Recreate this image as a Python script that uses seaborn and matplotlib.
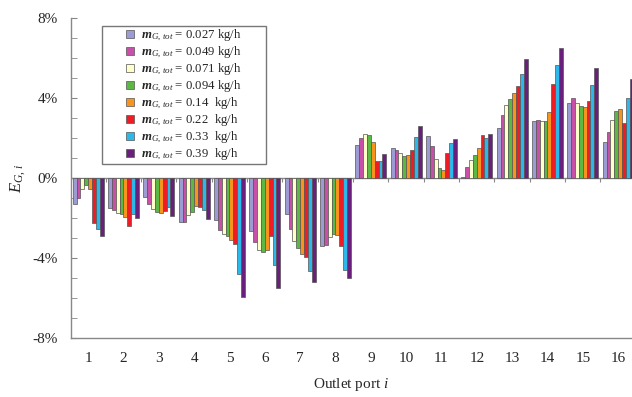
import numpy as np
import pandas as pd
import matplotlib
matplotlib.use('Agg')
import matplotlib.pyplot as plt
from matplotlib.patches import Patch, Rectangle
from matplotlib.ticker import MultipleLocator, FuncFormatter
import seaborn as sns

ports = list(range(1, 16 + 1))
flows = ['0.027', '0.049', '0.071', '0.094', '0.14 ', '0.22 ', '0.33 ', '0.39 ']
colors = ['#9c9cd2', '#c850a8', '#ffffcc', '#5cb845', '#f7941d', '#ee1c24', '#2cb8e8', '#6a1f7c']

# E_G,i in percent, one list per flow rate (ports 1..16)
e_027 = [-1.3, -1.5, -0.95, -2.2, -2.1, -2.65, -1.8, -3.4, 1.65, 1.5, 2.1, 0.05, 2.5, 2.85, 3.75, 1.8]
e_049 = [-1.0, -1.6, -1.3, -2.2, -2.6, -3.2, -2.55, -3.35, 2.0, 1.4, 1.6, 0.55, 3.15, 2.9, 4.0, 2.3]
e_071 = [-0.57, -1.75, -1.55, -1.85, -2.8, -3.6, -3.15, -2.95, 2.2, 1.25, 0.95, 0.9, 3.65, 2.85, 3.75, 2.9]
e_094 = [-0.33, -1.8, -1.7, -1.7, -2.9, -3.7, -3.5, -2.8, 2.15, 1.1, 0.5, 1.15, 3.95, 2.85, 3.6, 3.35]
e_14 = [-0.57, -1.95, -1.75, -1.4, -3.1, -3.6, -3.8, -2.85, 1.8, 1.15, 0.4, 1.5, 4.25, 3.3, 3.55, 3.45]
e_22 = [-2.26, -2.4, -1.65, -1.45, -3.3, -2.9, -3.95, -3.4, 0.85, 1.4, 1.25, 2.15, 4.6, 4.7, 3.85, 2.75]
e_33 = [-2.55, -1.8, -1.45, -1.6, -4.8, -4.35, -4.65, -4.6, 0.85, 2.05, 1.75, 2.0, 5.2, 5.65, 4.65, 4.0]
e_39 = [-2.9, -2.0, -1.9, -2.05, -5.95, -5.5, -5.2, -5.0, 1.2, 2.6, 1.95, 2.2, 5.95, 6.5, 5.5, 4.95]
series = [e_027, e_049, e_071, e_094, e_14, e_22, e_33, e_39]

labels = [r'$\mathbfit{m}_{G,\,tot}$' + f' = {f} kg/h' for f in flows]

rows = []
for lab, vals in zip(labels, series):
    for p, v in zip(ports, vals):
        rows.append({'port': p, 'E': v, 'flow': lab})
df = pd.DataFrame(rows)

sns.set_style('white')
plt.rcParams['font.family'] = ['Liberation Serif', 'DejaVu Serif']
plt.rcParams['mathtext.fontset'] = 'custom'
plt.rcParams['mathtext.rm'] = 'Liberation Serif'
plt.rcParams['mathtext.it'] = 'Liberation Serif:italic'
plt.rcParams['mathtext.bf'] = 'Liberation Serif:bold'
plt.rcParams['mathtext.bfit'] = 'Liberation Serif:bold:italic'

fig = plt.figure(figsize=(6.32, 3.97), dpi=100)
ax = fig.add_axes([70.5 / 632, 59 / 397, 565.3 / 632, 320 / 397])

sns.barplot(data=df, x='port', y='E', hue='flow', hue_order=labels, palette=colors,
            width=0.87, saturation=1, edgecolor='#555555', linewidth=0.5,
            errorbar=None, legend=False, ax=ax)

ax.set_ylim(-8, 8)
ax.set_xlim(-0.5, 15.5)
ax.yaxis.set_major_locator(MultipleLocator(4))
ax.yaxis.set_minor_locator(MultipleLocator(1))
ax.yaxis.set_major_formatter(FuncFormatter(lambda v, p: f'{v:.0f}%'))
ax.tick_params(axis='y', which='both', direction='in', length=4, color='#888888',
               labelsize=11, pad=9, left=True)
ax.tick_params(axis='x', length=0, labelsize=11, pad=10)

for s in ['top', 'right']:
    ax.spines[s].set_visible(False)
for s in ['left', 'bottom']:
    ax.spines[s].set_color('#888888')
    ax.spines[s].set_linewidth(1)

# category axis crossing at zero
ax.axhline(0, color='#888888', lw=1, zorder=0.5)
ax.vlines(np.arange(-0.5, 16, 1), -0.18, 0, color='#888888', lw=0.8)

ax.set_xlabel('Outlet port $i$', fontsize=11)
ax.xaxis.set_label_coords(0.497, -0.118)
ax.set_ylabel(r'$E_{G,\,i}$', fontsize=12)
ax.yaxis.set_label_coords(-0.075, 0.5)

# legend frame (wide side padding as in the source figure)
fig.patches.append(Rectangle((102 / 632, 1 - 164 / 397), 164 / 632, 138 / 397,
                             transform=fig.transFigure, facecolor='white',
                             edgecolor='#777777', linewidth=1, zorder=1))
handles = [Patch(facecolor=c, edgecolor='#555555', linewidth=0.5) for c in colors]
leg = fig.legend(handles, labels, loc='upper left', bbox_to_anchor=(126 / 632, 1 - 28 / 397),
                 fontsize=9.2, frameon=False, handlelength=0.6, handleheight=0.6,
                 handletextpad=0.6, labelspacing=0.15, borderpad=0, borderaxespad=0)
leg.set_zorder(2)

fig.savefig('out.png', dpi=100)
